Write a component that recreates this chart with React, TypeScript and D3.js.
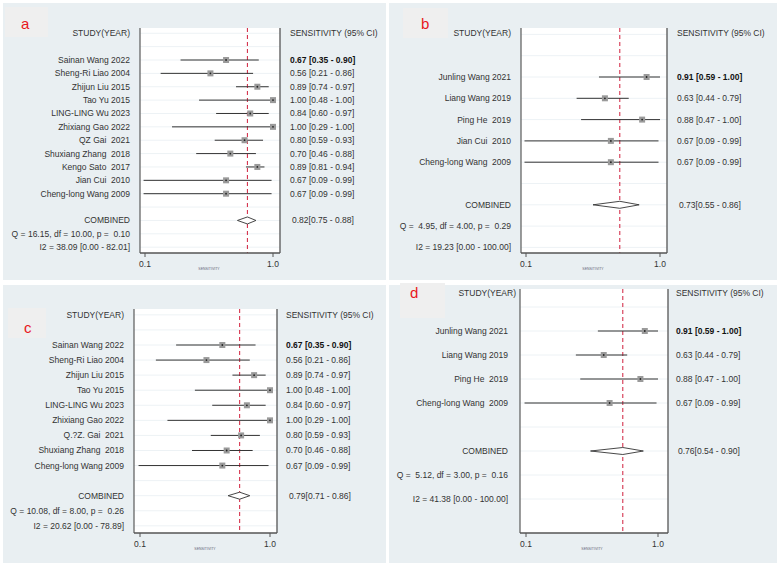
import React from "react";
import * as d3 from "d3";

// ---------- DATA ----------
const studiesA = ["Sainan Wang 2022", "Sheng-Ri Liao 2004", "Zhijun Liu 2015", "Tao Yu 2015", "LING-LING Wu 2023", "Zhixiang Gao 2022", "QZ Gai  2021", "Shuxiang Zhang  2018", "Kengo Sato  2017", "Jian Cui  2010", "Cheng-long Wang 2009"];
const sensA = [0.67, 0.56, 0.89, 1.0, 0.84, 1.0, 0.8, 0.7, 0.89, 0.67, 0.67];
const lowA = [0.35, 0.21, 0.74, 0.48, 0.6, 0.29, 0.59, 0.46, 0.81, 0.09, 0.09];
const highA = [0.9, 0.86, 0.97, 1.0, 0.97, 1.0, 0.93, 0.88, 0.94, 0.99, 0.99];
const combinedA = [0.82, 0.75, 0.88];
const statsA = ["Q = 16.15, df = 10.00, p =  0.10", "I2 = 38.09 [0.00 - 82.01]"];

const studiesB = ["Junling Wang 2021", "Liang Wang 2019", "Ping He  2019", "Jian Cui  2010", "Cheng-long Wang  2009"];
const sensB = [0.91, 0.63, 0.88, 0.67, 0.67];
const lowB = [0.59, 0.44, 0.47, 0.09, 0.09];
const highB = [1.0, 0.79, 1.0, 0.99, 0.99];
const combinedB = [0.73, 0.55, 0.86];
const statsB = ["Q =  4.95, df = 4.00, p =  0.29", "I2 = 19.23 [0.00 - 100.00]"];

const studiesC = ["Sainan Wang 2022", "Sheng-Ri Liao 2004", "Zhijun Liu 2015", "Tao Yu 2015", "LING-LING Wu 2023", "Zhixiang Gao 2022", "Q.?Z. Gai  2021", "Shuxiang Zhang  2018", "Cheng-long Wang 2009"];
const sensC = [0.67, 0.56, 0.89, 1.0, 0.84, 1.0, 0.8, 0.7, 0.67];
const lowC = [0.35, 0.21, 0.74, 0.48, 0.6, 0.29, 0.59, 0.46, 0.09];
const highC = [0.9, 0.86, 0.97, 1.0, 0.97, 1.0, 0.93, 0.88, 0.99];
const combinedC = [0.79, 0.71, 0.86];
const statsC = ["Q = 10.08, df = 8.00, p =  0.26", "I2 = 20.62 [0.00 - 78.89]"];

const studiesD = ["Junling Wang 2021", "Liang Wang 2019", "Ping He  2019", "Cheng-long Wang  2009"];
const sensD = [0.91, 0.63, 0.88, 0.67];
const lowD = [0.59, 0.44, 0.47, 0.09];
const highD = [1.0, 0.79, 1.0, 0.99];
const combinedD = [0.76, 0.54, 0.9];
const statsD = ["Q =  5.12, df = 3.00, p =  0.16", "I2 = 41.38 [0.00 - 100.00]"];

const axisTicks = [0.1, 1.0];
const tickLabels = ["0.1", "1.0"];

// ---------- LAYOUT ----------
const FONT = "'Liberation Sans', Arial, sans-serif";
const BG = "#e9eff2";
const TXT = "#333";

type Layout = {
  letter: string;
  bg: [number, number, number, number];
  box: [number, number, number, number];
  letterPos: [number, number];
  plot: { left: number; right: number; top: number; bottom: number };
  x0: number;
  x1: number;
  labelRight: number;
  headerRight: number;
  ciX: number;
  combX: number;
  headerY: number;
  firstRow: number;
  spacing: number;
};

const fmt = (v: number) => v.toFixed(2);

function Panel({ L, studies, sens, low, high, combined, stats }: {
  L: Layout; studies: string[]; sens: number[]; low: number[]; high: number[]; combined: number[]; stats: string[];
}) {
  const x = d3.scaleLinear().domain([0.1, 1.0]).range([L.x0, L.x1]);
  const n = studies.length;
  const rowY = (i: number) => L.firstRow + i * L.spacing;
  const combY = rowY(n + 1);
  const qY = rowY(n + 2);
  const iY = rowY(n + 3);
  const gridRows = d3.range(-2, n + 4).map(rowY).filter((gy) => gy > L.plot.top && gy < L.plot.bottom);
  const p = L.plot;
  const textStyle: React.CSSProperties = { whiteSpace: "pre" };
  const [cm, clo, chi] = combined;
  return (
    <g>
      <rect x={L.bg[0]} y={L.bg[1]} width={L.bg[2]} height={L.bg[3]} fill={BG} />
      <rect x={L.box[0]} y={L.box[1]} width={L.box[2]} height={L.box[3]} fill="#efefef" />
      <text x={L.letterPos[0]} y={L.letterPos[1]} fontSize={15} fill="#e8171c" fontFamily={FONT}>{L.letter}</text>
      <rect x={p.left} y={p.top} width={p.right - p.left} height={p.bottom - p.top} fill="#fff" />
      {gridRows.map((gy, i) => (
        <line key={"g" + i} x1={p.left} x2={p.right} y1={gy} y2={gy} stroke="#edf2f5" strokeWidth={1} />
      ))}
      <line x1={x(cm)} x2={x(cm)} y1={p.top} y2={p.bottom} stroke="#d11f3c" strokeWidth={1} strokeDasharray="4,3" />
      {studies.map((s, i) => {
        const y = rowY(i);
        return (
          <g key={"s" + i}>
            <line x1={x(low[i])} x2={x(high[i])} y1={y} y2={y} stroke="#333" strokeWidth={1} />
            <rect x={x(sens[i]) - 3} y={y - 3} width={6} height={6} fill="#9a9a9a" />
            <circle cx={x(sens[i])} cy={y} r={0.9} fill="#222" />
            <text x={L.labelRight} y={y} dy="0.35em" textAnchor="end" fontSize={8.5} fill={TXT} fontFamily={FONT} style={textStyle}>{s}</text>
            <text x={L.ciX} y={y} dy="0.35em" fontSize={8.5} fill={i === 0 ? "#111" : TXT} fontWeight={i === 0 ? 700 : 400} fontFamily={FONT} style={textStyle}>
              {`${fmt(sens[i])} [${fmt(low[i])} - ${fmt(high[i])}]`}
            </text>
          </g>
        );
      })}
      <polygon
        points={`${x(clo)},${combY} ${x(cm)},${combY - 3.5} ${x(chi)},${combY} ${x(cm)},${combY + 3.5}`}
        fill="#fff" stroke="#333" strokeWidth={0.9}
      />
      <text x={L.headerRight} y={L.headerY} dy="0.35em" textAnchor="end" fontSize={8.5} fill={TXT} fontFamily={FONT}>STUDY(YEAR)</text>
      <text x={L.ciX} y={L.headerY} dy="0.35em" fontSize={8.5} fill={TXT} fontFamily={FONT}>SENSITIVITY (95% CI)</text>
      <text x={L.labelRight} y={combY} dy="0.35em" textAnchor="end" fontSize={8.5} fill={TXT} fontFamily={FONT}>COMBINED</text>
      <text x={L.combX} y={combY} dy="0.35em" fontSize={8.5} fill={TXT} fontFamily={FONT}>{`${fmt(cm)}[${fmt(clo)} - ${fmt(chi)}]`}</text>
      <text x={L.labelRight} y={qY} dy="0.35em" textAnchor="end" fontSize={8.5} fill={TXT} fontFamily={FONT} style={textStyle}>{stats[0]}</text>
      <text x={L.labelRight} y={iY} dy="0.35em" textAnchor="end" fontSize={8.5} fill={TXT} fontFamily={FONT} style={textStyle}>{stats[1]}</text>
      {/* frame */}
      <line x1={p.left} x2={p.left} y1={p.top} y2={p.bottom} stroke="#666" strokeWidth={1.3} />
      <line x1={p.right} x2={p.right} y1={p.top} y2={p.bottom} stroke="#555" strokeWidth={1.3} />
      <line x1={p.left} x2={p.right} y1={p.bottom} y2={p.bottom} stroke="#555" strokeWidth={1.3} />
      {axisTicks.map((t, i) => (
        <g key={"t" + i}>
          <line x1={x(t)} x2={x(t)} y1={p.bottom} y2={p.bottom + 4} stroke="#555" strokeWidth={1} />
          <text x={x(t)} y={p.bottom + 11} dy="0.35em" textAnchor="middle" fontSize={8.5} fill={TXT} fontFamily={FONT}>{tickLabels[i]}</text>
        </g>
      ))}
      <text x={(L.x0 + L.x1) / 2} y={p.bottom + 16} dy="0.35em" textAnchor="middle" fontSize={3.5} fill="#667" fontFamily={FONT}>SENSITIVITY</text>
    </g>
  );
}

const layoutA: Layout = {
  letter: "a", bg: [3, 3, 383, 277], box: [5, 7, 43, 30], letterPos: [21, 29],
  plot: { left: 140, right: 280, top: 28, bottom: 253 }, x0: 145, x1: 273,
  labelRight: 130, headerRight: 130, ciX: 290, combX: 292, headerY: 33, firstRow: 60, spacing: 13.37,
};
const layoutB: Layout = {
  letter: "b", bg: [389, 3, 388, 277], box: [403, 8, 45, 30], letterPos: [421, 29],
  plot: { left: 521, right: 667, top: 28, bottom: 253 }, x0: 526, x1: 660,
  labelRight: 511, headerRight: 511, ciX: 677, combX: 679, headerY: 33, firstRow: 77, spacing: 21.3,
};
const layoutC: Layout = {
  letter: "c", bg: [3, 285, 383, 278], box: [8, 308, 38, 30], letterPos: [24, 333],
  plot: { left: 134, right: 277, top: 309, bottom: 533 }, x0: 140, x1: 270,
  labelRight: 124, headerRight: 124, ciX: 286, combX: 289, headerY: 315, firstRow: 345, spacing: 15.07,
};
const layoutD: Layout = {
  letter: "d", bg: [389, 285, 388, 278], box: [400, 283, 45, 35], letterPos: [410, 298],
  plot: { left: 520, right: 668, top: 289, bottom: 533 }, x0: 526, x1: 658,
  labelRight: 508, headerRight: 516, ciX: 676, combX: 678, headerY: 293, firstRow: 331, spacing: 24,
};

export default function App() {
  return (
    <svg width={777} height={566} style={{ position: "absolute", left: 0, top: 0, background: "#fff" }}>
      <rect width={777} height={566} fill="#fff" />
      <Panel L={layoutA} studies={studiesA} sens={sensA} low={lowA} high={highA} combined={combinedA} stats={statsA} />
      <Panel L={layoutB} studies={studiesB} sens={sensB} low={lowB} high={highB} combined={combinedB} stats={statsB} />
      <Panel L={layoutC} studies={studiesC} sens={sensC} low={lowC} high={highC} combined={combinedC} stats={statsC} />
      <Panel L={layoutD} studies={studiesD} sens={sensD} low={lowD} high={highD} combined={combinedD} stats={statsD} />
    </svg>
  );
}
